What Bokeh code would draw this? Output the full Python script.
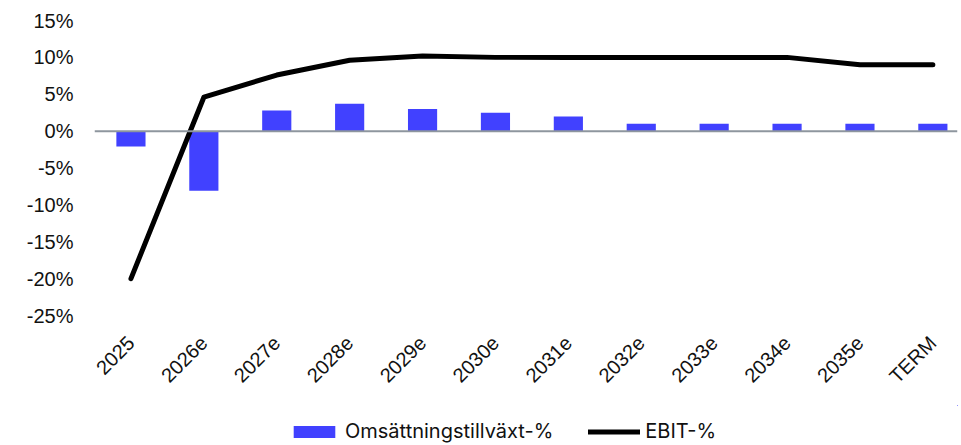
import math
from bokeh.plotting import figure
from bokeh.layouts import column
from bokeh.models import (ColumnDataSource, Range1d, FixedTicker, PrintfTickFormatter,
                          Span, Legend, LegendItem)
from bokeh.embed import file_html
from bokeh.resources import INLINE

categories = ["2025", "2026e", "2027e", "2028e", "2029e", "2030e", "2031e",
              "2032e", "2033e", "2034e", "2035e", "TERM"]
sales_growth = [-2.1, -8.1, 2.8, 3.7, 3.0, 2.5, 2.0, 1.0, 1.0, 1.0, 1.0, 1.0]
ebit_margin = [-20.0, 4.6, 7.6, 9.6, 10.2, 10.0, 10.0, 10.0, 10.0, 10.0, 9.0, 9.0]
y_ticks = [-25, -20, -15, -10, -5, 0, 5, 10, 15]
series_names = ["Omsättningstillväxt-%", "EBIT-%"]

BAR_COLOR = "#4141FF"
xs = list(range(len(categories)))
src = ColumnDataSource(dict(x=xs, cat=categories, growth=sales_growth, ebit=ebit_margin))

p = figure(width=958, height=405, output_backend="svg", toolbar_location=None,
           x_range=Range1d(-0.5, 11.338), y_range=Range1d(-25, 15),
           min_border_left=94, min_border_right=1, min_border_top=20,
           min_border_bottom=90)
p.outline_line_color = None
p.xgrid.visible = False
p.ygrid.visible = False

bars = p.vbar(x="x", top="growth", bottom=0, width=0.4, source=src,
              fill_color=BAR_COLOR, line_color=None)
zero = Span(location=0, dimension="width", line_color="#8E969E", line_width=2)
p.add_layout(zero)
line = p.line(x="x", y="ebit", source=src, line_color="black", line_width=5,
              line_cap="round", line_join="round")

p.yaxis.ticker = FixedTicker(ticks=y_ticks)
p.yaxis.formatter = PrintfTickFormatter(format="%d%%")
p.yaxis.axis_line_color = None
p.yaxis.major_tick_line_color = None
p.yaxis.minor_tick_line_color = None
p.yaxis.major_label_standoff = 15
p.yaxis.major_label_text_font = "Liberation Sans"
p.yaxis.major_label_text_font_size = "20px"
p.yaxis.major_label_text_color = "#111111"

p.xaxis.ticker = FixedTicker(ticks=xs)
p.xaxis.major_label_overrides = {i: c for i, c in zip(xs, categories)}
p.xaxis.major_label_orientation = math.pi / 4
p.xaxis.axis_line_color = None
p.xaxis.major_tick_line_color = None
p.xaxis.minor_tick_line_color = None
p.xaxis.major_label_standoff = 18
p.xaxis.major_label_text_font = "Liberation Sans"
p.xaxis.major_label_text_font_size = "20px"
p.xaxis.major_label_text_color = "#111111"

# legend strip (same data, drawn outside its visible range so only the legend shows)
leg = figure(width=958, height=38, output_backend="svg", toolbar_location=None,
             x_axis_location=None, y_axis_location=None,
             min_border_left=94, min_border_right=1, min_border_top=0, min_border_bottom=0,
             x_range=Range1d(-200, -199), y_range=Range1d(-200, -199))
leg.outline_line_color = None
leg.xgrid.visible = False
leg.ygrid.visible = False
lb = leg.vbar(x="x", top="growth", bottom=0, width=0.4, source=src,
              fill_color=BAR_COLOR, line_color=None)
ll = leg.line(x="x", y="ebit", source=src, line_color="black", line_width=5,
              line_cap="round")
legend = Legend(items=[LegendItem(label=series_names[0], renderers=[lb]),
                       LegendItem(label=series_names[1], renderers=[ll])],
                orientation="horizontal", location=(194, 0),
                glyph_width=52, glyph_height=15, label_standoff=5, spacing=35,
                label_text_font="Inter", label_text_font_size="20px",
                label_text_color="#111111", border_line_color=None,
                background_fill_alpha=0, padding=0, margin=0)
leg.add_layout(legend, "center")

layout = column(p, leg, spacing=0)
open("out.html", "w").write(file_html(layout, INLINE))
